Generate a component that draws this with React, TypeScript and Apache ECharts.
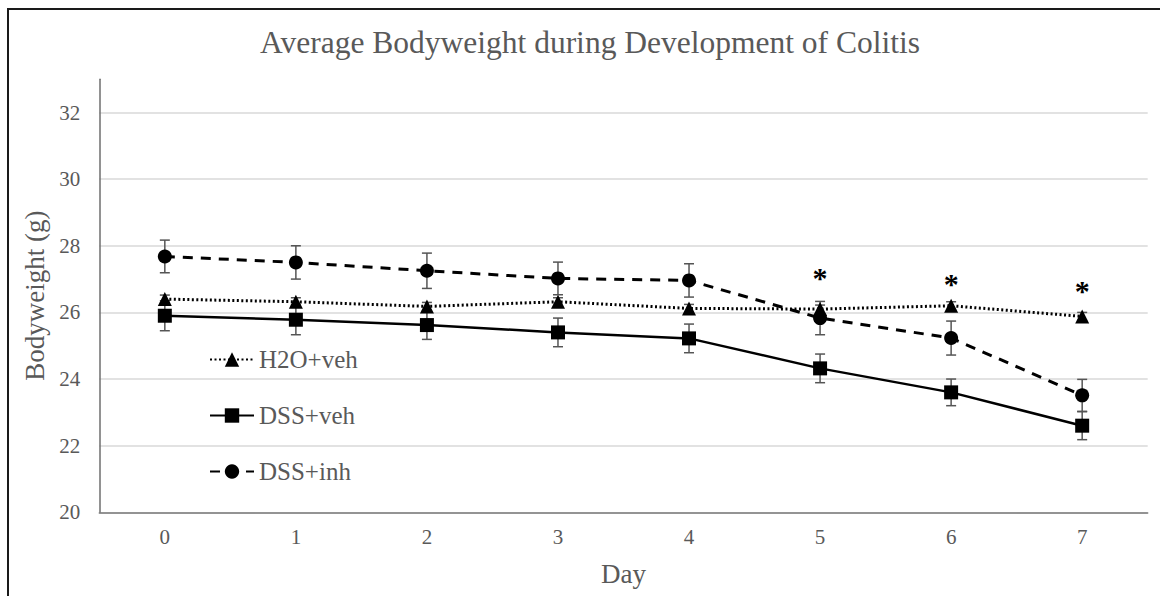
import React, { useEffect, useRef } from 'react';
import * as echarts from 'echarts';

const days = ['0', '1', '2', '3', '4', '5', '6', '7'];
const h2oVeh = [26.4, 26.32, 26.18, 26.32, 26.12, 26.1, 26.2, 25.88];
const h2oVehErr = [0.12, 0.12, 0.12, 0.12, 0.12, 0.12, 0.12, 0.12];
const dssVeh = [25.9, 25.78, 25.62, 25.4, 25.22, 24.32, 23.6, 22.6];
const dssVehErr = [0.45, 0.45, 0.43, 0.43, 0.43, 0.43, 0.4, 0.42];
const dssInh = [27.68, 27.5, 27.25, 27.02, 26.96, 25.83, 25.23, 23.51];
const dssInhErr = [0.49, 0.5, 0.53, 0.49, 0.5, 0.5, 0.51, 0.48];
const starDays = [5, 6, 7];
const starValues = [27.08, 26.9, 26.69];
const yTicks = [20, 22, 24, 26, 28, 30, 32];

const FONT = 'Liberation Serif';
const GRAY = '#595959';

function errData(vals: number[], errs: number[]) {
  return vals.map((v, i) => [i, v - errs[i], v + errs[i]]);
}

function errSeries(name: string, vals: number[], errs: number[]) {
  return {
    type: 'custom',
    name: name + ' err',
    data: errData(vals, errs),
    encode: { x: 0, y: [1, 2] },
    z: 1,
    silent: true,
    renderItem: (_params: any, api: any) => {
      const x = api.value(0);
      const top = api.coord([x, api.value(2)]);
      const bot = api.coord([x, api.value(1)]);
      const hw = 5;
      const style = { stroke: '#555555', lineWidth: 1.5 };
      return {
        type: 'group',
        children: [
          { type: 'line', shape: { x1: top[0], y1: top[1], x2: bot[0], y2: bot[1] }, style },
          { type: 'line', shape: { x1: top[0] - hw, y1: top[1], x2: top[0] + hw, y2: top[1] }, style },
          { type: 'line', shape: { x1: bot[0] - hw, y1: bot[1], x2: bot[0] + hw, y2: bot[1] }, style },
        ],
      };
    },
  };
}

export default function App() {
  const ref = useRef<HTMLDivElement>(null);
  useEffect(() => {
    if (!ref.current) return;
    const chart = echarts.init(ref.current, undefined, { renderer: 'svg' });
    chart.setOption({
      animation: false,
      backgroundColor: '#ffffff',
      textStyle: { fontFamily: FONT },
      title: {
        text: 'Average Bodyweight during Development of Colitis',
        left: 585,
        textAlign: 'center',
        top: 21,
        textStyle: { fontFamily: FONT, fontSize: 31.5, fontWeight: 'normal', color: GRAY },
      },
      graphic: [
        {
          type: 'rect',
          shape: { x: 8, y: 9, width: 1300, height: 800 },
          style: { fill: 'none', stroke: '#1a1a1a', lineWidth: 2 },
          silent: true,
        },
      ],
      legend: {
        data: ['H2O+veh', 'DSS+veh', 'DSS+inh'],
        orient: 'vertical',
        left: 204,
        top: 342,
        itemWidth: 44,
        itemHeight: 18,
        itemGap: 31,
        textStyle: { fontFamily: FONT, fontSize: 25, color: GRAY, lineHeight: 25 },
      },
      grid: { left: 99.3, right: 12.3, top: 79.2, bottom: 83.7 },
      xAxis: {
        type: 'category',
        data: days,
        boundaryGap: true,
        name: 'Day',
        nameLocation: 'middle',
        nameGap: 48,
        nameTextStyle: { fontFamily: FONT, fontSize: 27, color: GRAY },
        axisTick: { show: false },
        axisLine: { lineStyle: { color: '#7a7a7a', width: 1.5 } },
        axisLabel: { fontFamily: FONT, fontSize: 21, color: GRAY, margin: 14 },
      },
      yAxis: {
        type: 'value',
        min: 20,
        max: 33,
        interval: 2,
        name: 'Bodyweight (g)',
        nameLocation: 'middle',
        nameGap: 45,
        nameTextStyle: { fontFamily: FONT, fontSize: 27, color: GRAY },
        axisLine: { show: true, lineStyle: { color: '#6e6e6e', width: 1.5 } },
        axisTick: { show: false },
        axisLabel: {
          fontFamily: FONT,
          fontSize: 21,
          color: GRAY,
          margin: 19,
          showMaxLabel: false,
          formatter: (v: number) => (yTicks.includes(v) ? String(v) : ''),
        },
        splitLine: { show: true, showMaxLine: false, lineStyle: { color: '#d9d9d9', width: 1.5 } },
      },
      series: [
        errSeries('H2O+veh', h2oVeh, h2oVehErr),
        errSeries('DSS+veh', dssVeh, dssVehErr),
        errSeries('DSS+inh', dssInh, dssInhErr),
        {
          type: 'line',
          name: 'H2O+veh',
          data: h2oVeh,
          symbol: 'triangle',
          symbolSize: 14,
          z: 3,
          itemStyle: { color: '#000000' },
          lineStyle: { color: '#000000', width: 3, type: [2, 2.5] },
        },
        {
          type: 'line',
          name: 'DSS+veh',
          data: dssVeh,
          symbol: 'rect',
          symbolSize: 14,
          z: 3,
          itemStyle: { color: '#000000' },
          lineStyle: { color: '#000000', width: 2.5, type: 'solid' },
        },
        {
          type: 'line',
          name: 'DSS+inh',
          data: dssInh,
          symbol: 'circle',
          symbolSize: 14,
          z: 3,
          itemStyle: { color: '#000000' },
          lineStyle: { color: '#000000', width: 3, type: [10, 8] },
        },
        {
          type: 'custom',
          name: 'stars',
          data: starDays.map((d, i) => [d, starValues[i]]),
          encode: { x: 0, y: 1 },
          z: 4,
          silent: true,
          renderItem: (_params: any, api: any) => {
            const p = api.coord([api.value(0), api.value(1)]);
            return {
              type: 'text',
              x: p[0],
              y: p[1] + 1,
              style: {
                text: '*',
                fill: '#000000',
                font: 'bold 30px Liberation Serif',
                align: 'center',
                verticalAlign: 'middle',
              },
            };
          },
        },
      ],
    });
    return () => chart.dispose();
  }, []);
  return (
    <div
      ref={ref}
      style={{ position: 'fixed', left: 0, top: 0, width: 1160, height: 596 }}
    />
  );
}
